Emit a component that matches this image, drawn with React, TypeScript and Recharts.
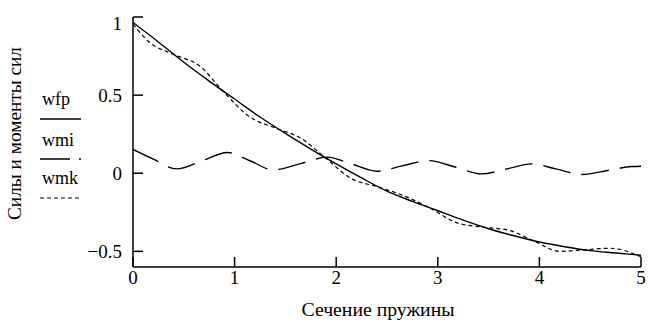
import { LineChart, Line, XAxis, YAxis } from "recharts";

const xTicks = [0, 1, 2, 3, 4, 5];
const yTicks = [-0.5, 0, 0.5, 1];

// wfp — solid curve
const wfpX = [0, 0.25, 0.5, 0.75, 1, 1.25, 1.5, 1.75, 2, 2.25, 2.5, 2.75, 3, 3.25, 3.5, 3.75, 4, 4.25, 4.5, 4.75, 5];
const wfpY = [0.965, 0.84, 0.71, 0.59, 0.475, 0.36, 0.255, 0.155, 0.06, -0.03, -0.115, -0.18, -0.24, -0.3, -0.355, -0.4, -0.44, -0.47, -0.495, -0.51, -0.525];

// wmi — long dashed oscillation near zero
const wmiX = [0, 0.2, 0.43, 0.68, 0.93, 1.15, 1.38, 1.65, 1.91, 2.15, 2.4, 2.65, 2.91, 3.17, 3.43, 3.68, 3.92, 4.17, 4.42, 4.67, 4.91, 5];
const wmiY = [0.152, 0.09, 0.028, 0.08, 0.133, 0.08, 0.022, 0.062, 0.103, 0.06, 0.013, 0.047, 0.081, 0.04, -0.004, 0.028, 0.06, 0.026, -0.008, 0.018, 0.043, 0.045];

// wmk — short dashed, wiggles around wfp
const wmkX = [0, 0.15, 0.4, 0.65, 0.9, 1.15, 1.4, 1.65, 1.9, 2.15, 2.4, 2.65, 2.9, 3.2, 3.45, 3.7, 3.95, 4.2, 4.45, 4.7, 5];
const wmkY = [0.955, 0.845, 0.76, 0.69, 0.515, 0.36, 0.29, 0.225, 0.095, -0.035, -0.085, -0.14, -0.215, -0.32, -0.345, -0.365, -0.435, -0.5, -0.49, -0.48, -0.535];

const toRows = (xs: number[], ys: number[]) => xs.map((x, i) => ({ x, v: ys[i] }));

const FONT = "Liberation Serif, DejaVu Serif, serif";
const textStyle = { fontFamily: FONT };

const fmt = (v: number) => String(v).replace("-", "\u2212");

function YTick(props: any) {
  const { x, y, payload } = props;
  const shift = payload.value === 1 ? 6 : 0;
  return (
    <text x={x} y={y + shift} dy="0.35em" textAnchor="end" style={textStyle} fontSize={19} fill="#000">
      {fmt(payload.value)}
    </text>
  );
}

function XTick(props: any) {
  const { x, y, payload } = props;
  return (
    <text x={x} y={y} dy="0.71em" textAnchor="middle" style={textStyle} fontSize={19} fill="#000">
      {payload.value}
    </text>
  );
}

export default function App() {
  const axisLine = { stroke: "#000", strokeWidth: 1.5 };
  const tickLine = { stroke: "#000", strokeWidth: 1.5 };
  return (
    <div style={{ position: "absolute", left: 0, top: 0, width: 648, height: 323, background: "#fff", fontFamily: FONT }}>
      <LineChart width={648} height={323} margin={{ top: 17, right: 7, left: 0, bottom: 0 }}>
        <XAxis
          xAxisId={0}
          type="number"
          dataKey="x"
          domain={[0, 5]}
          ticks={xTicks}
          allowDataOverflow
          height={56}
          axisLine={axisLine}
          tickLine={tickLine}
          tickSize={-10}
          tickMargin={14}
          tick={<XTick />}
        />
        <XAxis
          xAxisId="top"
          orientation="top"
          type="number"
          domain={[0, 5]}
          ticks={xTicks}
          height={0}
          axisLine={axisLine}
          tickLine={tickLine}
          tickSize={-10}
          tick={false}
        />
        <YAxis
          yAxisId={0}
          type="number"
          domain={[-0.6, 1]}
          ticks={yTicks}
          allowDataOverflow
          width={133}
          axisLine={axisLine}
          tickLine={tickLine}
          tickSize={-10}
          tickMargin={21}
          tick={<YTick />}
        />
        <YAxis
          yAxisId="right"
          orientation="right"
          type="number"
          domain={[-0.6, 1]}
          ticks={yTicks}
          width={0}
          axisLine={axisLine}
          tickLine={tickLine}
          tickSize={-10}
          tick={false}
        />
        <Line
          data={toRows(wfpX, wfpY)}
          dataKey="v"
          type="monotone"
          stroke="#000"
          strokeWidth={1.4}
          dot={false}
          isAnimationActive={false}
        />
        <Line
          data={toRows(wmiX, wmiY)}
          dataKey="v"
          type="monotone"
          stroke="#000"
          strokeWidth={1.4}
          strokeDasharray="28 11"
          dot={false}
          isAnimationActive={false}
        />
        <Line
          data={toRows(wmkX, wmkY)}
          dataKey="v"
          type="monotone"
          stroke="#000"
          strokeWidth={1.2}
          strokeDasharray="4 3"
          dot={false}
          isAnimationActive={false}
        />
      </LineChart>

      {/* axis titles and the Mathcad-style legend */}
      <svg width={648} height={323} style={{ position: "absolute", left: 0, top: 0, pointerEvents: "none" }}>
        <text
          x={378}
          y={316}
          textAnchor="middle"
          style={textStyle}
          fontSize={19}
          fill="#000"
          textLength={153}
          lengthAdjust="spacingAndGlyphs"
        >
          Сечение пружины
        </text>
        <text
          transform="translate(21 133.5) rotate(-90)"
          textAnchor="middle"
          style={textStyle}
          fontSize={19}
          fill="#000"
          textLength={173}
          lengthAdjust="spacingAndGlyphs"
        >
          Силы и моменты сил
        </text>
        <g style={textStyle} fontSize={18} fill="#000">
          <text x={42} y={105}>wfp</text>
          <text x={42} y={146}>wmi</text>
          <text x={42} y={184}>wmk</text>
        </g>
        <line x1={40} x2={81} y1={119} y2={119} stroke="#000" strokeWidth={1.4} />
        <line x1={40} x2={81} y1={159} y2={159} stroke="#000" strokeWidth={1.4} strokeDasharray="30 9" />
        <line x1={40} x2={81} y1={198} y2={198} stroke="#000" strokeWidth={1.2} strokeDasharray="4 3" />
      </svg>
    </div>
  );
}
